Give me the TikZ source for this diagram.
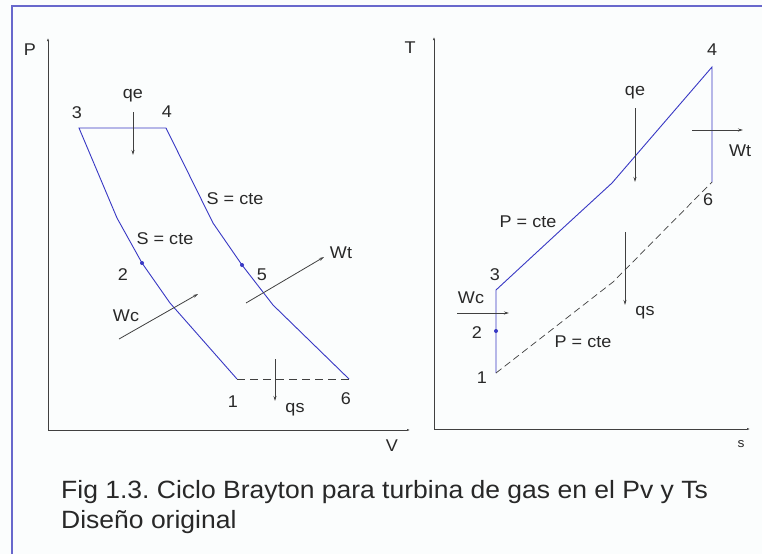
\documentclass[tikz,border=0pt]{standalone}
\usepackage{fontspec}
\setmainfont{Liberation Sans}[FakeStretch=1.06]
\usetikzlibrary{arrows.meta, positioning}
\frenchspacing

\definecolor{frameblue}{RGB}{104,104,204}
\definecolor{cycleblue}{RGB}{56,56,196}
\definecolor{axisgray}{RGB}{64,64,64}
\definecolor{inkgray}{RGB}{40,40,40}
\definecolor{paper}{RGB}{251,253,253}

\begin{document}
\begin{tikzpicture}[
    x=1pt, y=-1pt,
    % --- Line styles ---
    axis/.style = {draw=axisgray, line width=0.8pt, -{Latex[length=3pt, width=2.2pt]}},
    cycle/.style = {draw=cycleblue, line width=0.9pt},
    cycledash/.style = {draw=axisgray, line width=0.7pt, dash pattern=on 8pt off 5pt},
    flow/.style = {draw=axisgray, line width=0.8pt, -{Stealth[length=5pt, width=3pt]}},
    % --- Text styles ---
    lbl/.style = {font=\fontsize{17}{19}\selectfont, text=inkgray, inner sep=0pt},
    small/.style = {font=\fontsize{13}{15}\selectfont, text=inkgray, inner sep=0pt},
    statept/.style = {circle, fill=cycleblue, inner sep=0pt, minimum size=4pt}
]

\useasboundingbox (0,0) rectangle (762,554);
\fill[paper] (0,0) rectangle (762,554);
\draw[frameblue, line width=2pt] (12,554) -- (12,6) -- (762,6);

% ==================== Pv DIAGRAM ====================
\coordinate (pvO) at (48,430);
\coordinate (pvY) at (48,38);
\coordinate (pvX) at (410,430);
\draw[axis] (pvO) -- (pvY);
\draw[axis] (pvO) -- (pvX);
\node[lbl] (lblP) at (30,50) {P};
\node[lbl] (lblV) at (392,446) {V};

% states
\coordinate (a3) at (79,128);
\coordinate (a4) at (166,128);
\coordinate (a2) at (142,263);
\coordinate (a5) at (242,265);
\coordinate (a1) at (237,379);
\coordinate (a6) at (349,379);

\draw[cycle] (a4) -- (a3) -- (117,218) -- (a2) -- (170,303) -- (a1);
\draw[cycle] (a4) -- (213,223) -- (a5) -- (273,305) -- (a6);
\draw[cycledash] (a1) -- (a6);
\node[statept] at (a2) {};
\node[statept] at (a5) {};

\node[lbl] (n3) at (77,113) {3};
\node[lbl] (n4) at (167,112) {4};
\node[lbl] (n2) at (123,275) {2};
\node[lbl] (n5) at (262,275) {5};
\node[lbl] (n1) at (233,402) {1};
\node[lbl] (n6) at (346,399) {6};
\node[lbl] (sTop) at (235,199) {S = cte};
\node[lbl] (sBot) at (165,239) {S = cte};

% heat and work
\node[lbl] (qeA) at (133,96) {qe};
\coordinate (qeFrom) at (133,112);
\coordinate (qeTo) at (133,155);
\draw[flow] (qeFrom) -- (qeTo);

\coordinate (qsFrom) at (275,359);
\coordinate (qsTo) at (275,401);
\draw[flow] (qsFrom) -- (qsTo);
\node[lbl] (qsA) at (295,410) {qs};

\coordinate (wcFrom) at (119,339);
\coordinate (wcTo) at (198,294);
\draw[flow] (wcFrom) -- (wcTo);
\node[lbl] (wcA) at (126,316) {Wc};

\coordinate (wtFrom) at (246,303);
\coordinate (wtTo) at (324,257);
\draw[flow] (wtFrom) -- (wtTo);
\node[lbl] (wtA) at (341,253) {Wt};

% ==================== Ts DIAGRAM ====================
\coordinate (tsO) at (434,429);
\coordinate (tsY) at (434,37);
\coordinate (tsX) at (750,429);
\draw[axis] (tsO) -- (tsY);
\draw[axis] (tsO) -- (tsX);
\node[lbl] (lblT) at (410,48) {T};
\node[small] (lblS) at (741,444) {s};

% states
\coordinate (b1) at (496,373);
\coordinate (b2) at (496,331);
\coordinate (b3) at (496,290);
\coordinate (b4) at (712,67);
\coordinate (b6) at (712,182);

\draw[cycle] (b1) -- (b3) -- (563,228) -- (612,183) -- (b4) -- (b6);
\draw[cycledash, dash pattern=on 7pt off 4pt] (b1) -- (613,282) -- (b6);
\node[statept] at (b2) {};

\node[lbl] (m4) at (712,50) {4};
\node[lbl] (m6) at (708,200) {6};
\node[lbl] (m3) at (495,275) {3};
\node[lbl] (m2) at (477,333) {2};
\node[lbl] (m1) at (482,378) {1};
\node[lbl] (pTop) at (528,222) {P = cte};
\node[lbl] (pBot) at (583,342) {P = cte};

% heat and work
\node[lbl] (qeB) at (635,93) {qe};
\coordinate (qe2From) at (635,108);
\coordinate (qe2To) at (635,182);
\draw[flow] (qe2From) -- (qe2To);

\coordinate (qs2From) at (625,232);
\coordinate (qs2To) at (625,305);
\draw[flow] (qs2From) -- (qs2To);
\node[lbl] (qsB) at (645,313) {qs};

\coordinate (wt2From) at (692,130);
\coordinate (wt2To) at (743,130);
\draw[flow] (wt2From) -- (wt2To);
\node[lbl] (wtB) at (740,151) {Wt};

\coordinate (wc2From) at (457,313);
\coordinate (wc2To) at (509,313);
\draw[flow] (wc2From) -- (wc2To);
\node[lbl] (wcB) at (471,298) {Wc};

% ==================== CAPTION ====================
\node[anchor=north west, align=left, inner sep=0pt, text=inkgray,
      font=\fontsize{25}{30}\selectfont] (caption) at (61,480)
    {Fig 1.3. Ciclo Brayton para turbina de gas en el Pv y Ts\\Diseño original};

\end{tikzpicture}
\end{document}
